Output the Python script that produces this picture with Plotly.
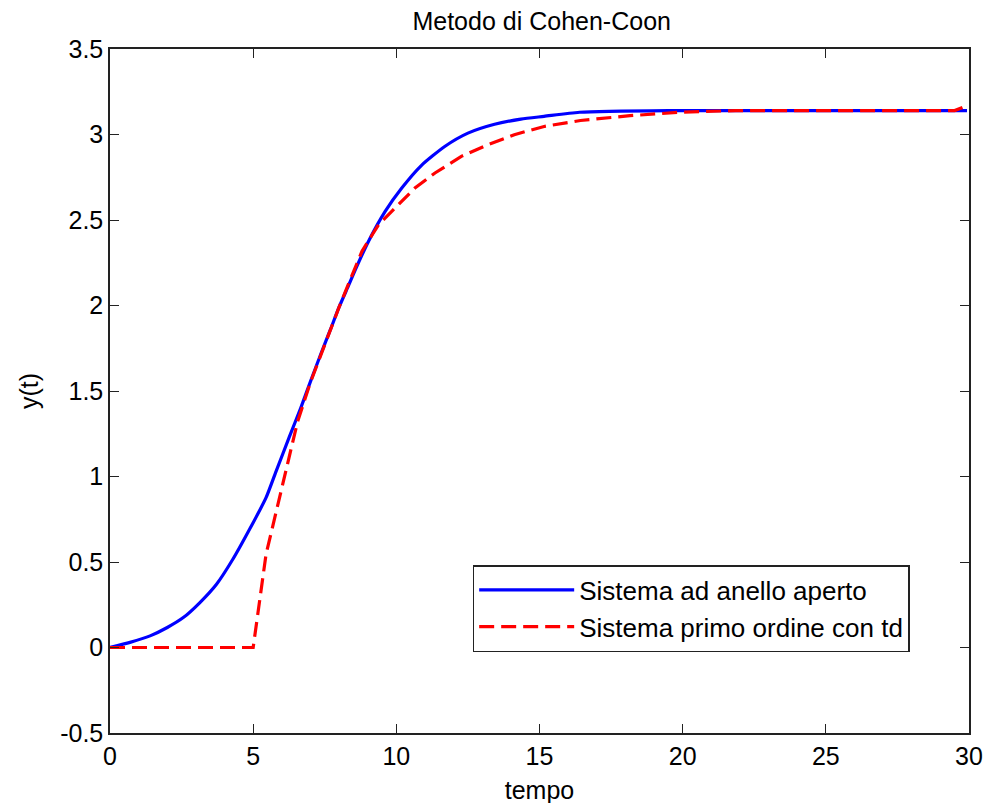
import plotly.graph_objects as go

# Open-loop system response
t_open = [0, 0.7, 1.4, 2.0, 2.56, 3.14, 3.72, 4.29, 4.87, 5.45, 5.8, 6.26, 6.66, 7.0,
          7.36, 7.70, 8.0, 8.34, 8.57, 9.03, 9.61, 10.19, 10.88, 11.69, 12.5,
          13.43, 14.35, 15.16, 16.4, 19.5, 29.93]
y_open = [0, 0.03, 0.068, 0.117, 0.175, 0.263, 0.37, 0.516, 0.69, 0.876, 1.03, 1.23,
          1.40, 1.555, 1.715, 1.86, 1.99, 2.12, 2.21, 2.376, 2.55, 2.687, 2.82,
          2.93, 3.008, 3.06, 3.09, 3.106, 3.13, 3.14, 3.14]

# First-order-plus-dead-time approximation
t_fopdt = [0, 5.0, 5.45, 6.1, 6.55, 7.0, 7.36, 7.70, 8.0, 8.34, 8.80, 9.38, 9.96,
           10.65, 11.35, 12.27, 13.19, 14.12, 15.16, 16.43, 18.16, 19.9, 21.86, 29.5, 29.8]
y_fopdt = [0, 0, 0.545, 1.0, 1.32, 1.55, 1.71, 1.86, 1.99, 2.13, 2.317, 2.473, 2.57,
           2.687, 2.775, 2.872, 2.94, 2.999, 3.047, 3.082, 3.11, 3.13, 3.14, 3.14, 3.16]

x_ticks = [0, 5, 10, 15, 20, 25, 30]
y_ticks = [-0.5, 0, 0.5, 1, 1.5, 2, 2.5, 3, 3.5]
y_tick_text = ["-0.5", "0", "0.5", "1", "1.5", "2", "2.5", "3", "3.5"]

FONT = "Liberation Sans, Arial, sans-serif"
FS = 25
W, H = 992, 803

fig = go.Figure()
fig.add_trace(go.Scatter(x=t_open, y=y_open, mode="lines",
                         name="Sistema ad anello aperto",
                         line=dict(color="#0000FF", width=3.2, shape="spline",
                                   smoothing=0.6)))
fig.add_trace(go.Scatter(x=t_fopdt, y=y_fopdt, mode="lines",
                         name="Sistema primo ordine con td",
                         line=dict(color="#FF0000", width=3.2, dash="15px,7px")))

axis_common = dict(
    showline=True, linecolor="#222222", linewidth=1.5, mirror="allticks",
    ticks="inside", ticklen=9, tickcolor="#222222", tickwidth=1,
    showgrid=False, zeroline=False, automargin=False,
    tickfont=dict(family=FONT, size=FS, color="black"),
)

fig.update_layout(
    width=W, height=H,
    margin=dict(l=102, r=31, t=41, b=78),
    paper_bgcolor="white", plot_bgcolor="white",
    font=dict(family=FONT, size=FS, color="black"),
    title=dict(text="Metodo di Cohen-Coon", x=533.7 / W, xanchor="center", xref="container",
               y=1 - 13 / H, yanchor="middle", yref="container",
               font=dict(family=FONT, size=FS, color="black")),
    xaxis=dict(range=[0, 30], tickvals=x_ticks,
               title=dict(text="tempo", standoff=13,
                          font=dict(family=FONT, size=FS)),
               **axis_common),
    yaxis=dict(range=[-0.5, 3.5], tickvals=y_ticks, ticktext=y_tick_text,
               title=dict(text="y(t)", standoff=14,
                          font=dict(family=FONT, size=FS)),
               **axis_common),
    legend=dict(x=0.4222, y=0.2456, xanchor="left", yanchor="top",
                bgcolor="white", bordercolor="#222222", borderwidth=1.5,
                font=dict(family=FONT, size=26, color="black"),
                itemwidth=95, tracegroupgap=0),
    showlegend=True,
)

fig.write_html("out.html")
